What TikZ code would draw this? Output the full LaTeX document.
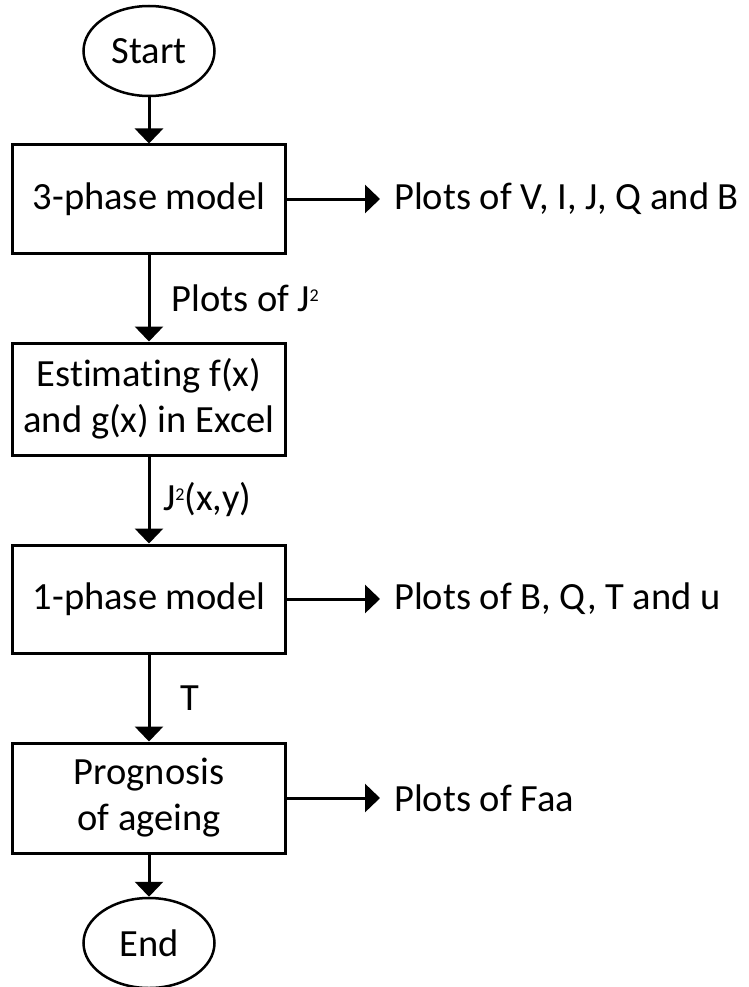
\documentclass[tikz,border=0pt]{standalone}
\usepackage{fontspec}
\setmainfont[Ligatures=NoCommon]{Carlito}
\usetikzlibrary{shapes.geometric,arrows.meta}

\tikzset{
  term/.style={ellipse,draw,line width=2.5pt,minimum width=131pt,minimum height=90pt,inner sep=0pt},
  proc/.style={rectangle,draw,line width=3pt,minimum width=273pt,inner sep=0pt,align=center},
  flow/.style={line width=3pt,-{Triangle[width=28pt,length=15pt]}},
  lbl/.style={anchor=west,inner sep=0pt},
  res/.style={anchor=west,inner xsep=14pt,inner ysep=0pt},
}

\newcommand{\sqr}{\kern-0.5pt\raisebox{10pt}{\fontsize{18}{18}\selectfont 2}}

\begin{document}
\begin{tikzpicture}[x=1pt,y=-1pt,font=\fontsize{38.5}{46}\selectfont]
\useasboundingbox (0,0) rectangle (748,987);

% main column
\node[term] (start) at (149,51) {Start};
\node[proc,minimum height=108pt] (three) at (149,199) {3-phase model};
\node[proc,minimum height=112pt] (est) at (149,399) {Estimating f(x)\\and g(x) in Excel};
\node[proc,minimum height=108pt] (one) at (149,599) {1-phase model};
\node[proc,minimum height=110pt] (prog) at (149,798) {Prognosis\\of ageing};
\node[term] (end) at (149,943) {End};

% results on the right
\node[res] (plotsA) at (380,199) {Plots of V, I, J, Q and B};
\node[res] (plotsB) at (380,599) {Plots of B, Q, T and u};
\node[res] (plotsC) at (380,798) {Plots of Faa};

\draw[flow] (start) -- (three);
\draw[flow] (three) -- node[lbl,xshift=21pt] {Plots of J\sqr} (est);
\draw[flow] (est) -- node[lbl,xshift=13pt] {J\sqr(x,y)} (one);
\draw[flow] (one) -- node[lbl,xshift=30pt] {T} (prog);
\draw[flow] (prog) -- (end);

\draw[flow] (three) -- (plotsA.west);
\draw[flow] (one) -- (plotsB.west);
\draw[flow] (prog) -- (plotsC.west);
\end{tikzpicture}
\end{document}
